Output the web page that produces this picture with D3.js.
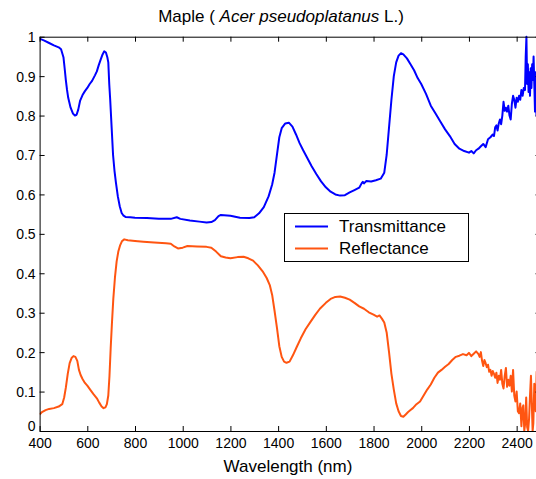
<!DOCTYPE html>
<html><head><meta charset="utf-8">
<script src="https://cdn.jsdelivr.net/npm/d3@7"></script>
<style>body{margin:0;background:#fff}svg{display:block}text{font-family:Arial,"Liberation Sans",sans-serif;fill:#000}</style>
</head><body>
<svg id="c" width="536" height="479"></svg>
<script>
const xTicks = [400,600,800,1000,1200,1400,1600,1800,2000,2200,2400];
const yTicks = [0,0.1,0.2,0.3,0.4,0.5,0.6,0.7,0.8,0.9,1];
const seriesNames = ["Transmittance","Reflectance"];
const seriesColors = ["#0000ff","#ff5511"];

const transWl = [400,420,440,460,480,490,500,505,510,515,520,530,540,548,555,562,570,580,590,600,610,620,632,640,648,656,664,671,678,684,688,692,696,702,708,714,720,728,736,744,752,760,780,800,850,900,950,975,990,1030,1070,1100,1120,1135,1150,1160,1200,1240,1280,1300,1320,1340,1360,1375,1385,1395,1405,1415,1430,1445,1460,1475,1490,1505,1520,1540,1560,1580,1600,1620,1640,1660,1680,1700,1720,1740,1750,1755,1760,1770,1790,1810,1830,1845,1855,1865,1875,1885,1895,1905,1915,1925,1940,1955,1970,1985,2000,2020,2040,2060,2080,2100,2120,2140,2160,2180,2200,2210,2220,2230,2240,2250,2260,2270,2280,2290,2300,2305,2310,2315,2320,2325,2330,2335,2340,2345,2350,2355,2360,2365,2370,2375,2380,2385,2390,2395,2400,2405,2410,2415,2420,2425,2430,2435,2438,2441,2444,2447,2450,2453,2456,2459,2462,2465,2468,2471,2474,2477,2480,2483,2486,2490,2495,2500];
const transVal = [0.995,0.99,0.984,0.978,0.973,0.968,0.948,0.92,0.89,0.865,0.845,0.82,0.805,0.80,0.802,0.815,0.838,0.852,0.862,0.87,0.88,0.888,0.902,0.912,0.928,0.942,0.955,0.963,0.96,0.948,0.935,0.88,0.84,0.77,0.70,0.66,0.63,0.595,0.57,0.553,0.546,0.543,0.542,0.541,0.54,0.538,0.538,0.542,0.538,0.534,0.531,0.529,0.53,0.535,0.545,0.548,0.546,0.541,0.54,0.542,0.552,0.568,0.595,0.625,0.655,0.70,0.745,0.768,0.78,0.782,0.772,0.752,0.73,0.712,0.695,0.672,0.652,0.633,0.618,0.607,0.60,0.597,0.598,0.605,0.611,0.617,0.628,0.632,0.628,0.634,0.633,0.636,0.64,0.655,0.70,0.77,0.84,0.90,0.935,0.952,0.958,0.955,0.945,0.93,0.915,0.895,0.88,0.855,0.825,0.805,0.785,0.765,0.748,0.728,0.716,0.71,0.706,0.71,0.704,0.712,0.716,0.722,0.728,0.72,0.74,0.745,0.752,0.748,0.77,0.775,0.762,0.78,0.79,0.778,0.80,0.835,0.812,0.82,0.81,0.825,0.80,0.79,0.83,0.85,0.84,0.82,0.845,0.835,0.85,0.84,0.865,0.85,0.87,0.865,0.95,1.0,0.88,0.93,0.86,0.91,0.85,0.92,0.87,0.93,0.89,0.95,0.88,0.81,0.91,0.80,0.9,0.85,0.9,0.86];

const reflWl = [400,410,425,440,460,480,495,503,510,518,526,534,542,550,558,565,572,580,590,600,612,625,640,650,660,668,676,682,688,693,698,703,709,716,723,730,737,745,755,770,800,835,880,930,950,965,980,1000,1020,1060,1100,1120,1140,1160,1180,1200,1230,1255,1275,1295,1315,1335,1352,1365,1375,1385,1395,1405,1415,1425,1435,1448,1462,1478,1495,1515,1535,1555,1575,1600,1620,1640,1660,1680,1700,1720,1740,1760,1780,1800,1815,1825,1835,1845,1855,1865,1875,1885,1895,1905,1915,1925,1935,1945,1955,1965,1980,1995,2010,2025,2040,2055,2070,2085,2100,2115,2130,2145,2160,2175,2190,2200,2210,2220,2230,2240,2245,2250,2255,2260,2265,2270,2275,2280,2285,2290,2295,2300,2305,2310,2315,2320,2325,2330,2335,2340,2345,2350,2355,2360,2365,2370,2375,2380,2385,2390,2395,2400,2405,2410,2415,2420,2425,2428,2432,2436,2440,2444,2448,2452,2456,2460,2464,2467,2470,2474,2477,2480,2484,2488,2492,2500];
const reflVal = [0.042,0.048,0.053,0.056,0.058,0.062,0.068,0.085,0.11,0.145,0.172,0.185,0.19,0.188,0.178,0.155,0.142,0.132,0.122,0.115,0.105,0.094,0.083,0.072,0.062,0.058,0.06,0.068,0.09,0.14,0.21,0.27,0.335,0.39,0.43,0.455,0.47,0.481,0.486,0.484,0.482,0.48,0.478,0.476,0.475,0.468,0.463,0.465,0.469,0.468,0.467,0.465,0.455,0.443,0.44,0.438,0.441,0.442,0.438,0.432,0.42,0.405,0.388,0.37,0.345,0.305,0.262,0.215,0.188,0.176,0.173,0.176,0.192,0.213,0.235,0.258,0.276,0.294,0.31,0.325,0.335,0.34,0.341,0.338,0.333,0.325,0.316,0.31,0.301,0.295,0.29,0.293,0.285,0.275,0.25,0.20,0.145,0.105,0.07,0.05,0.038,0.036,0.042,0.048,0.053,0.058,0.068,0.075,0.09,0.105,0.118,0.135,0.148,0.155,0.163,0.17,0.18,0.188,0.191,0.195,0.192,0.198,0.19,0.196,0.202,0.195,0.188,0.2,0.178,0.165,0.18,0.172,0.162,0.168,0.15,0.155,0.14,0.152,0.145,0.135,0.148,0.122,0.14,0.13,0.155,0.12,0.108,0.14,0.16,0.112,0.13,0.115,0.14,0.1,0.155,0.09,0.075,0.1,0.05,0.045,0.07,0.012,0.06,0.065,0.0,0.02,0.085,0.01,0.0,0.03,0.09,0.14,0.06,0.0,0.02,0.12,0.11,0.05,0.15,0.08,0.12,0.1];

const svg = d3.select("#c");
const L = 39.6, R = 540.5, T = 36.7, B = 431;
const x = d3.scaleLinear().domain([400,2500]).range([L,R]);
const y = d3.scaleLinear().domain([0,1]).range([B,T]);

svg.append("rect").attr("width",536).attr("height",479).attr("fill","#fff");

svg.append("defs").append("clipPath").attr("id","clip")
  .append("rect").attr("x",L).attr("y",T-2).attr("width",R-L).attr("height",B-T+2);

const g = svg.append("g").attr("clip-path","url(#clip)");
const line = d3.line().x(d=>x(d[0])).y(d=>y(d[1]));
const tData = transWl.map((w,i)=>[w,transVal[i]]);
const rData = reflWl.map((w,i)=>[w,reflVal[i]]);
g.append("path").datum(tData).attr("d",line).attr("fill","none").attr("stroke",seriesColors[0]).attr("stroke-width",2).attr("stroke-linejoin","round");
g.append("path").datum(rData).attr("d",line).attr("fill","none").attr("stroke",seriesColors[1]).attr("stroke-width",2).attr("stroke-linejoin","round");

// axes
const tl = 5;
const xb = svg.append("g").attr("transform",`translate(0,${B})`).call(d3.axisBottom(x).tickValues(xTicks).tickSizeInner(-tl).tickSizeOuter(0).tickPadding(7).tickFormat(d3.format("d")));
const xt = svg.append("g").attr("transform",`translate(0,${T})`).call(d3.axisTop(x).tickValues(xTicks).tickSizeInner(-tl).tickSizeOuter(0).tickFormat(""));
const yl = svg.append("g").attr("transform",`translate(${L},0)`).call(d3.axisLeft(y).tickValues(yTicks).tickSizeInner(-tl).tickSizeOuter(0).tickPadding(4).tickFormat(d=>d===0?"0":d===1?"1":d3.format(".1f")(d)));
const yr = svg.append("g").attr("transform",`translate(${R},0)`).call(d3.axisRight(y).tickValues(yTicks).tickSizeInner(-tl).tickSizeOuter(0).tickFormat(""));
[xb,xt,yl,yr].forEach(a=>{a.selectAll(".domain").attr("stroke","#000");a.selectAll("line").attr("stroke","#000");a.selectAll("text").attr("font-size",14).attr("font-family","Arial, 'Liberation Sans', sans-serif").attr("fill","#222");});
xb.selectAll("text").attr("dy","0.68em");
yl.selectAll("text").attr("dy","0.35em");
yl.selectAll(".tick").filter(d=>d===0).select("text").attr("dy","-0.05em");

// title
const title = svg.append("text").attr("x",281).attr("y",22).attr("text-anchor","middle").attr("font-size",17).attr("fill","#222");
title.append("tspan").text("Maple ( ");
title.append("tspan").attr("font-style","italic").text("Acer pseudoplatanus");
title.append("tspan").text(" L.)");

svg.append("text").attr("x",288).attr("y",472).attr("text-anchor","middle").attr("font-size",17).attr("fill","#222").text("Wavelength (nm)");

// legend
const lg = svg.append("g");
lg.append("rect").attr("x",284.5).attr("y",213.5).attr("width",184).attr("height",48).attr("fill","#fff").attr("stroke","#000");
seriesNames.forEach((n,i)=>{
  const yy = 226.5 + i*22;
  lg.append("line").attr("x1",295).attr("x2",328).attr("y1",yy).attr("y2",yy).attr("stroke",seriesColors[i]).attr("stroke-width",2);
  lg.append("text").attr("x",339).attr("y",yy).attr("dy","0.35em").attr("font-size",17).attr("fill","#222").text(n);
});
</script>
</body></html>
